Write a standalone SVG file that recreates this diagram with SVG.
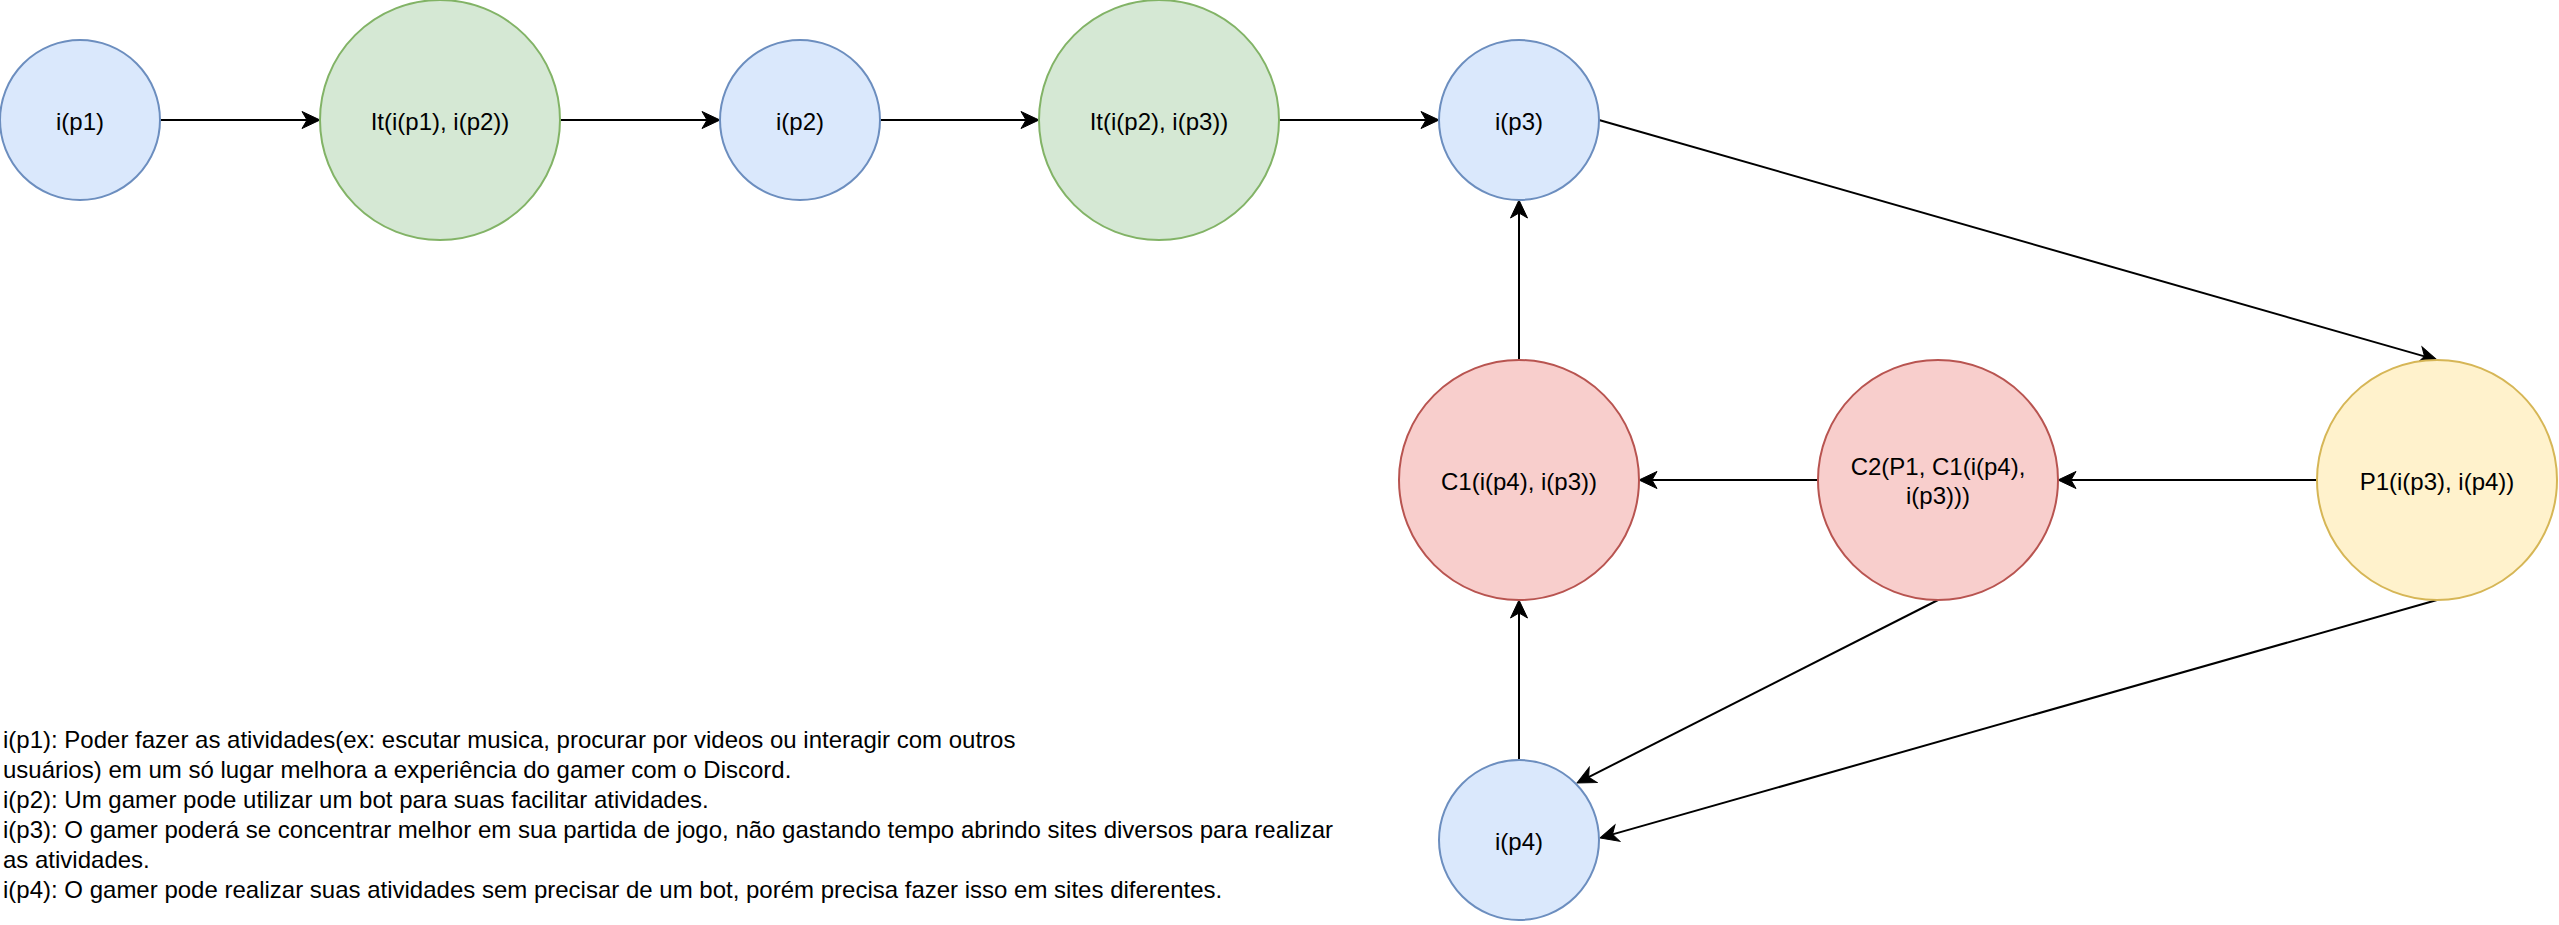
<svg xmlns="http://www.w3.org/2000/svg" width="2559" height="925" viewBox="0 0 2559 925">
<style>
.blue{fill:#dae8fc;stroke:#6c8ebf;stroke-width:2}
.green{fill:#d5e8d4;stroke:#82b366;stroke-width:2}
.red{fill:#f8cecc;stroke:#b85450;stroke-width:2}
.yellow{fill:#fff2cc;stroke:#d6b656;stroke-width:2}
text{font-family:"Liberation Sans",Arial,Helvetica,sans-serif;font-size:24px;fill:#000}
.lbl{text-anchor:middle}
.edge{fill:none;stroke:#000;stroke-width:2;marker-end:url(#arr)}
</style>
<defs>
<marker id="arr" markerUnits="userSpaceOnUse" markerWidth="20" markerHeight="20" viewBox="-1 -10 20 20" refX="5" refY="0" orient="auto">
<path d="M0,-8.5 L18,0 L0,8.5 L5,0 Z" fill="#000" stroke="#000" stroke-width="1"/>
</marker>
</defs>
<rect width="2559" height="925" fill="#fff"/>
<g id="connectors">
<path class="edge" d="M160,120 L307,120"/>
<path class="edge" d="M560,120 L707,120"/>
<path class="edge" d="M880,120 L1026,120"/>
<path class="edge" d="M1279,120 L1426,120"/>
<path class="edge" d="M1599,120 L2424.5,356.4"/>
<path class="edge" d="M1519,360 L1519,213"/>
<path class="edge" d="M2317,480 L2071,480"/>
<path class="edge" d="M1818,480 L1652,480"/>
<path class="edge" d="M1519,760 L1519,613"/>
<path class="edge" d="M1938,600 L1588.6,777.1"/>
<path class="edge" d="M2437,600 L1612.5,834.4"/>
</g>
<g id="ip1"><circle class="blue" cx="80" cy="120" r="80"/><text class="lbl" x="80" y="129.5">i(p1)</text></g>
<g id="it1"><circle class="green" cx="440" cy="120" r="120"/><text class="lbl" x="440" y="129.5">It(i(p1), i(p2))</text></g>
<g id="ip2"><circle class="blue" cx="800" cy="120" r="80"/><text class="lbl" x="800" y="129.5">i(p2)</text></g>
<g id="it2"><circle class="green" cx="1159" cy="120" r="120"/><text class="lbl" x="1159" y="129.5">It(i(p2), i(p3))</text></g>
<g id="ip3"><circle class="blue" cx="1519" cy="120" r="80"/><text class="lbl" x="1519" y="129.5">i(p3)</text></g>
<g id="c1"><circle class="red" cx="1519" cy="480" r="120"/><text class="lbl" x="1519" y="489.5">C1(i(p4), i(p3))</text></g>
<g id="c2"><circle class="red" cx="1938" cy="480" r="120"/><text class="lbl" x="1938" y="475">C2(P1, C1(i(p4),</text><text class="lbl" x="1938" y="504">i(p3)))</text></g>
<g id="p1"><circle class="yellow" cx="2437" cy="480" r="120"/><text class="lbl" x="2437" y="489.5">P1(i(p3), i(p4))</text></g>
<g id="ip4"><circle class="blue" cx="1519" cy="840" r="80"/><text class="lbl" x="1519" y="849.5">i(p4)</text></g>
<g id="legend">
<text x="3" y="748">i(p1): Poder fazer as atividades(ex: escutar musica, procurar por videos ou interagir com outros</text>
<text x="3" y="778">usuários) em um só lugar melhora a experiência do gamer com o Discord.</text>
<text x="3" y="808">i(p2): Um gamer pode utilizar um bot para suas facilitar atividades.</text>
<text x="3" y="838">i(p3): O gamer poderá se concentrar melhor em sua partida de jogo, não gastando tempo abrindo sites diversos para realizar</text>
<text x="3" y="868">as atividades.</text>
<text x="3" y="898">i(p4): O gamer pode realizar suas atividades sem precisar de um bot, porém precisa fazer isso em sites diferentes.</text>
</g>
</svg>
